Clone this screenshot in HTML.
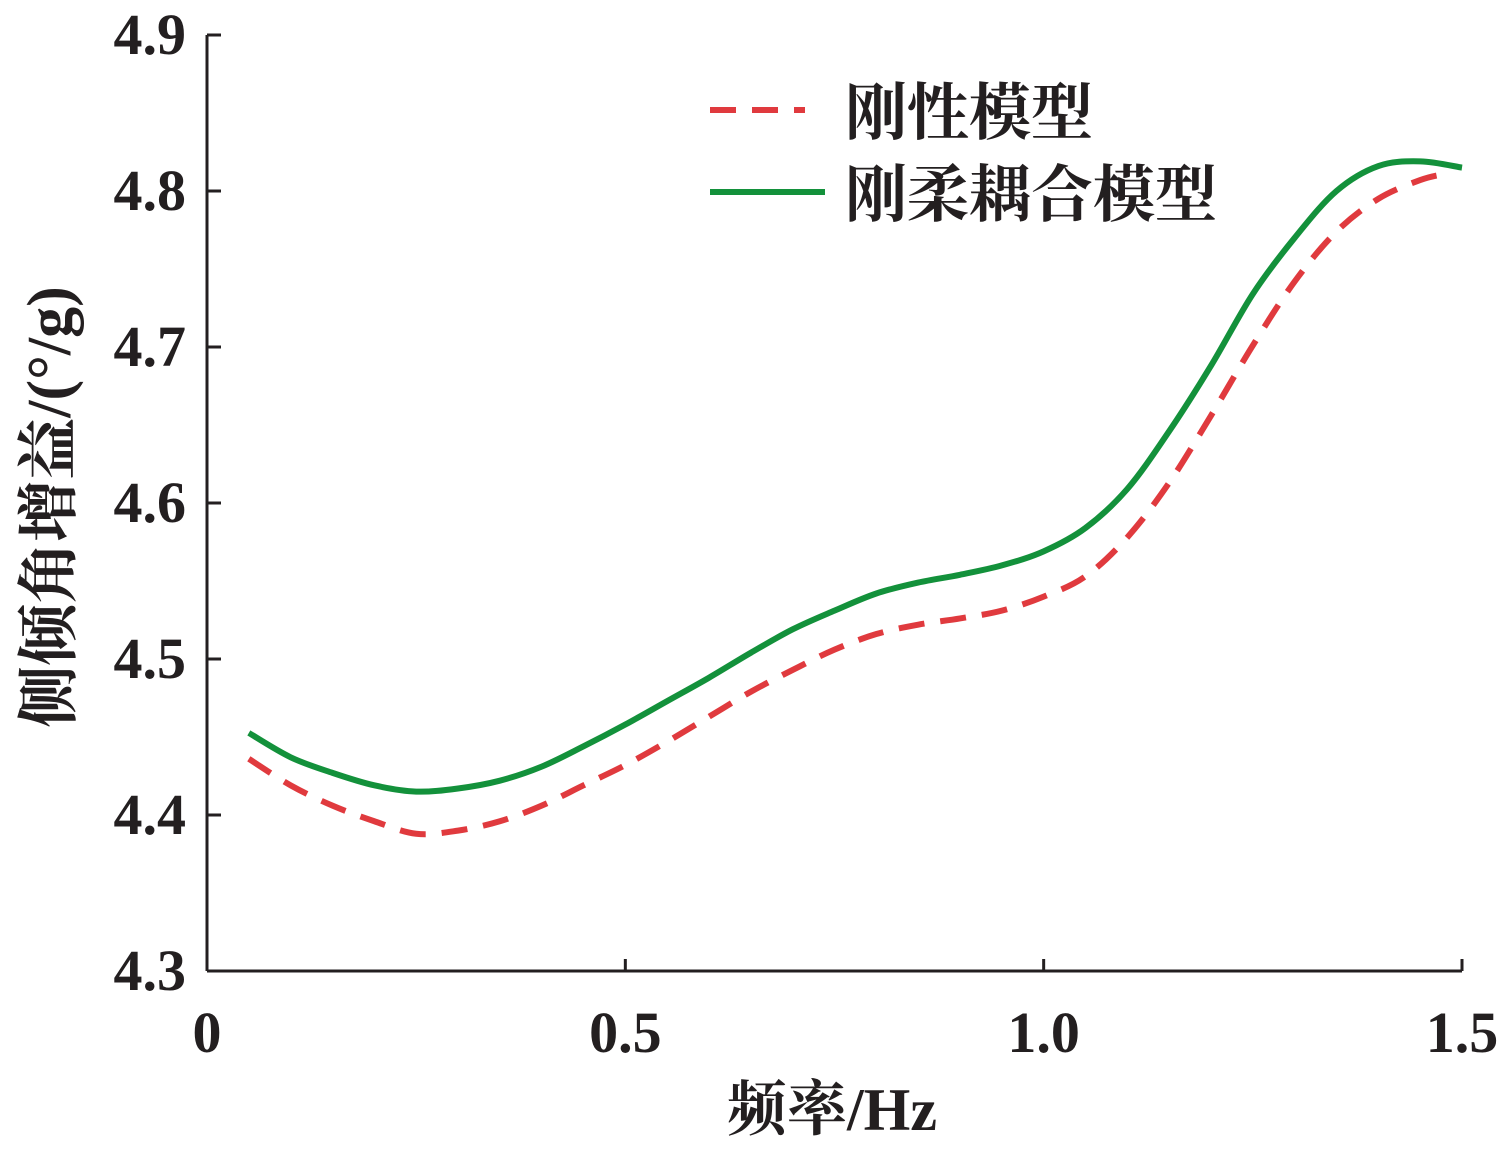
<!DOCTYPE html>
<html><head><meta charset="utf-8"><style>
body{margin:0;background:#fff;}
svg text{font-family:"Liberation Serif","Noto Serif CJK SC",serif;fill:#231f20;}
</style></head><body>
<svg id="chart" width="1511" height="1144" viewBox="0 0 1511 1144" xmlns="http://www.w3.org/2000/svg">
<g id="axes"></g>
<g id="series"></g>
<g>
<line x1="710" y1="110" x2="805" y2="110" stroke="#e03a3e" stroke-width="6" stroke-dasharray="26,16"/>
<text x="845" y="134" font-size="62" font-weight="bold">刚性模型</text>
<line x1="710" y1="192" x2="825" y2="192" stroke="#13913b" stroke-width="6"/>
<text x="845" y="216" font-size="62" font-weight="bold">刚柔耦合模型</text>
</g>
<text x="832" y="1130" font-size="60" font-weight="bold" text-anchor="middle">频率/Hz</text>
<text transform="translate(70,507) rotate(-90)" font-size="62" font-weight="bold" text-anchor="middle">侧倾角增益/(°/g)</text>
</svg>
<script>
const xTicks=[0,0.5,1.0,1.5];
const xTickLabels=["0","0.5","1.0","1.5"];
const yTicks=[4.3,4.4,4.5,4.6,4.7,4.8,4.9];
const yTickLabels=["4.3","4.4","4.5","4.6","4.7","4.8","4.9"];
const freqRigid=[0.05,0.1,0.15,0.2,0.25,0.3,0.35,0.4,0.45,0.5,0.55,0.6,0.65,0.7,0.75,0.8,0.85,0.9,0.95,1.0,1.05,1.1,1.15,1.2,1.25,1.3,1.35,1.4,1.45,1.48];
const gainRigid=[4.436,4.419,4.406,4.396,4.388,4.390,4.396,4.406,4.419,4.432,4.447,4.463,4.479,4.493,4.506,4.516,4.522,4.526,4.531,4.540,4.553,4.578,4.613,4.656,4.701,4.742,4.774,4.795,4.807,4.811];
const freqCoupled=[0.05,0.1,0.15,0.2,0.25,0.3,0.35,0.4,0.45,0.5,0.55,0.6,0.65,0.7,0.75,0.8,0.85,0.9,0.95,1.0,1.05,1.1,1.15,1.2,1.25,1.3,1.35,1.4,1.45,1.5];
const gainCoupled=[4.4526,4.437,4.427,4.419,4.415,4.417,4.422,4.431,4.444,4.458,4.473,4.488,4.504,4.519,4.531,4.542,4.549,4.554,4.560,4.569,4.584,4.609,4.646,4.688,4.734,4.770,4.800,4.816,4.819,4.815];
const NS="http://www.w3.org/2000/svg";
const X0=207,X1=1462,Y0=971,Y1=35;
const sx=v=>X0+(v-0)/(1.5-0)*(X1-X0);
const sy=v=>Y0-(v-4.3)/(4.9-4.3)*(Y0-Y1);
function mk(tag,attrs,parent){const e=document.createElementNS(NS,tag);for(const k in attrs)e.setAttribute(k,attrs[k]);parent.appendChild(e);return e;}
const axes=document.getElementById('axes');
let e=mk('line',{x1:X0,y1:Y0,x2:X1,y2:Y0,stroke:'#231f20','stroke-width':3},axes);


e=mk('line',{x1:X0,y1:Y0,x2:X0,y2:Y1,stroke:'#231f20','stroke-width':3},axes);


xTicks.forEach((t,i)=>{
 const x=sx(t);
 let l=mk('line',{x1:x,y1:Y0,x2:x,y2:Y0-12,stroke:'#231f20','stroke-width':3},axes);
 
 
 let tx=mk('text',{x:x,y:1052,'font-size':58,'font-weight':'bold','text-anchor':'middle'},axes);tx.textContent=xTickLabels[i];
 
 
});
yTicks.forEach((t,i)=>{
 const y=sy(t);
 let l=mk('line',{x1:X0,y1:y,x2:X0+14,y2:y,stroke:'#231f20','stroke-width':3},axes);
 
 
 let tx=mk('text',{x:186,y:y+19,'font-size':58,'font-weight':'bold','text-anchor':'end'},axes);tx.textContent=yTickLabels[i];
 
 
});
function smooth(xs,ys){
 const p=xs.map((x,i)=>[sx(x),sy(ys[i])]);
 let d='M'+p[0][0]+','+p[0][1];
 for(let i=0;i<p.length-1;i++){
  const a=p[Math.max(0,i-1)],b=p[i],c=p[i+1],dd=p[Math.min(p.length-1,i+2)];
  d+=' C'+(b[0]+(c[0]-a[0])/6)+','+(b[1]+(c[1]-a[1])/6)+' '+(c[0]-(dd[0]-b[0])/6)+','+(c[1]-(dd[1]-b[1])/6)+' '+c[0]+','+c[1];
 }
 return d;
}
const ser=document.getElementById('series');
let p1=mk('path',{d:smooth(freqRigid,gainRigid),fill:'none',stroke:'#e03a3e','stroke-width':6,'stroke-dasharray':'26,16'},ser);


let p2=mk('path',{d:smooth(freqCoupled,gainCoupled),fill:'none',stroke:'#13913b','stroke-width':6},ser);


</script>
</body></html>
